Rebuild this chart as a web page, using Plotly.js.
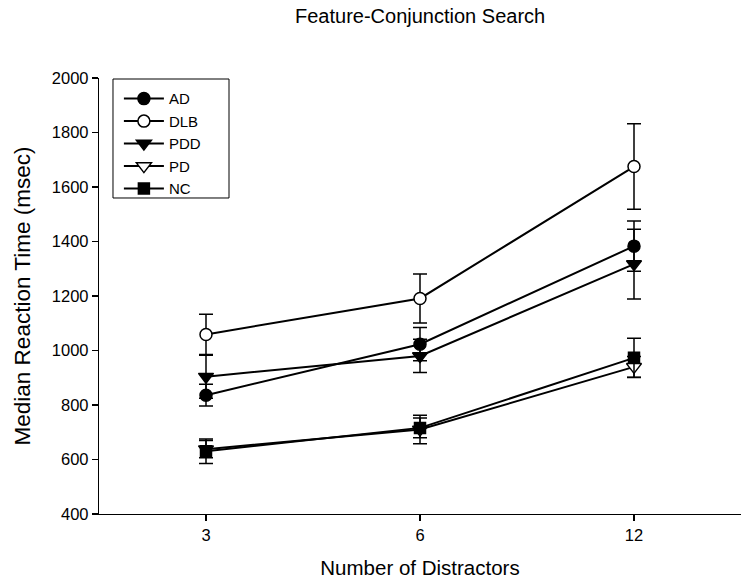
<!DOCTYPE html>
<html>
<head>
<meta charset="utf-8">
<script src="https://cdn.plot.ly/plotly-3.0.1.min.js"></script>
<style>html,body{margin:0;padding:0;background:#fff}#chart{width:751px;height:579px}</style>
</head>
<body>
<div id="chart"></div>
<script>
const categories = ["3", "6", "12"];
const groups = ["AD", "DLB", "PDD", "PD", "NC"];
const adValues = [836, 1023, 1383];
const adErrors = [40, 61, 92];
const dlbValues = [1059, 1191, 1675];
const dlbErrors = [74, 90, 157];
const pddValues = [904, 980, 1317];
const pddErrors = [79, 61, 128];
const pdValues = [638, 710, 940];
const pdErrors = [32, 52, 38];
const ncValues = [630, 716, 973];
const ncErrors = [45, 36, 72];
const yTicks = [400, 600, 800, 1000, 1200, 1400, 1600, 1800, 2000];

const seriesValues = [adValues, dlbValues, pddValues, pdValues, ncValues];
const seriesErrors = [adErrors, dlbErrors, pddErrors, pdErrors, ncErrors];
const symbols = ["circle", "circle", "triangle-down", "triangle-down", "square"];
const fills = ["black", "white", "black", "white", "black"];
const sizes = [12, 12, 13, 13, 11];

const traces = groups.map((g, i) => ({
  type: "scatter",
  mode: "lines+markers",
  name: g,
  x: categories,
  y: seriesValues[i],
  line: {color: "black", width: 2},
  marker: {symbol: symbols[i], size: sizes[i], color: fills[i], line: {color: "black", width: 1.5}},
  error_y: {type: "data", array: seriesErrors[i], visible: true, color: "black", thickness: 1.5, width: 7}
}));

const font = "Liberation Sans, Arial, sans-serif";
const layout = {
  width: 751, height: 579,
  margin: {l: 99, r: 10, t: 78, b: 65},
  paper_bgcolor: "white", plot_bgcolor: "white",
  font: {family: font, color: "black", size: 14},
  showlegend: true,
  title: {text: "Feature-Conjunction Search", font: {family: font, size: 20, color: "black"}, x: 0.5594, xanchor: "center", y: 0.985, yanchor: "top"},
  xaxis: {
    type: "category", range: [-0.5, 2.5],
    showline: true, linecolor: "black", linewidth: 1.2,
    ticks: "outside", ticklen: 6, tickcolor: "black", tickwidth: 1.2,
    showgrid: false, zeroline: false,
    tickfont: {family: font, size: 16.5, color: "black"},
    title: {text: "Number of Distractors", font: {family: font, size: 20.5, color: "black"}, standoff: 17}
  },
  yaxis: {
    range: [400, 2000], tickvals: yTicks,
    showline: true, linecolor: "black", linewidth: 1.2,
    ticks: "outside", ticklen: 6, tickcolor: "black", tickwidth: 1.2,
    showgrid: false, zeroline: false,
    tickfont: {family: font, size: 16.5, color: "black"},
    title: {text: "Median Reaction Time (msec)", font: {family: font, size: 22.5, color: "black"}, standoff: 15}
  },
  shapes: [{
    type: "rect", xref: "paper", yref: "paper",
    x0: 0.0218, x1: 0.2025, y0: 0.7248, y1: 0.9977,
    line: {color: "black", width: 1}, fillcolor: "rgba(0,0,0,0)", layer: "above"
  }],
  legend: {
    x: 0.031, y: 0.99, xanchor: "left", yanchor: "top",
    borderwidth: 0, bgcolor: "rgba(0,0,0,0)",
    font: {family: font, size: 15, color: "black"},
    itemwidth: 40, tracegroupgap: 0
  }
};

Plotly.newPlot("chart", traces, layout, {displayModeBar: false, staticPlot: true});
</script>
</body>
</html>
